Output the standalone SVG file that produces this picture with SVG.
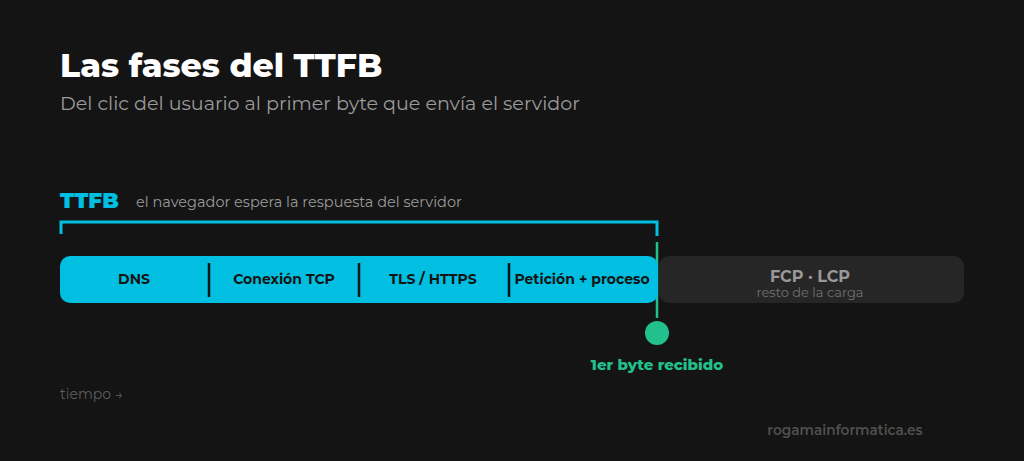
<svg xmlns="http://www.w3.org/2000/svg" width="1024" height="461" viewBox="0 0 1024 461">
<style>
text{font-family:"Montserrat","Inter","Open Sans",sans-serif}
.seg{font-size:14px;font-weight:700;fill:#141414;text-anchor:middle}
.div{stroke:#141414;stroke-width:2.5}
</style>
<rect width="1024" height="461" fill="#141414"/>
<g id="header">
<text x="60" y="77" font-size="33" font-weight="800" fill="#ffffff">Las fases del TTFB</text>
<text x="60" y="110" font-size="19.1" fill="#9a9a9a">Del clic del usuario al primer byte que envía el servidor</text>
</g>
<g id="ttfb-label">
<text x="60" y="208" font-size="21.5" font-weight="900" fill="#00bfe0">TTFB</text>
<text x="136" y="207" font-size="14.5" fill="#9a9a9a">el navegador espera la respuesta del servidor</text>
</g>
<g id="connectors">
<path d="M61 234 V222 H657 V236" fill="none" stroke="#00bfe0" stroke-width="3"/>
<line x1="657" y1="242" x2="657" y2="318" stroke="#22c08c" stroke-width="2.5"/>
</g>
<g id="ttfb-bar">
<rect x="60" y="256" width="598" height="47" rx="10" fill="#00bfe0"/>
<line class="div" x1="209" y1="263" x2="209" y2="297"/>
<line class="div" x1="359" y1="263" x2="359" y2="297"/>
<line class="div" x1="509" y1="263" x2="509" y2="297"/>
<text class="seg" x="134" y="284">DNS</text>
<text class="seg" x="284" y="284">Conexión TCP</text>
<text class="seg" x="433" y="284">TLS / HTTPS</text>
<text class="seg" x="582" y="284">Petición + proceso</text>
</g>
<g id="rest-bar">
<rect x="659" y="256" width="305" height="47" rx="10" fill="#262626"/>
<text x="810" y="282" font-size="16" font-weight="700" fill="#9a9a9a" text-anchor="middle">FCP · LCP</text>
<text x="810" y="297" font-size="13" fill="#707070" text-anchor="middle">resto de la carga</text>
</g>
<g id="first-byte">
<circle cx="657" cy="333" r="12" fill="#22c08c"/>
<text x="657" y="370" font-size="15" font-weight="800" fill="#22c08c" text-anchor="middle">1er byte recibido</text>
</g>
<g id="footer">
<text x="60" y="399" font-size="14" fill="#5e5e5e">tiempo →</text>
<text x="845" y="435" font-size="13.7" font-weight="600" fill="#505050" text-anchor="middle">rogamainformatica.es</text>
</g>
</svg>
